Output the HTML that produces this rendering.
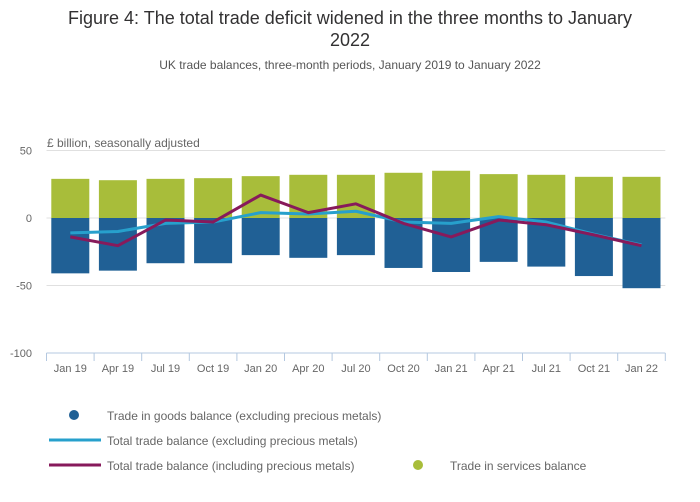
<!DOCTYPE html>
<html><head><meta charset="utf-8"><style>
body{margin:0;background:#fff;font-family:"Liberation Sans",sans-serif;}
#wrap{position:relative;width:700px;height:502px;overflow:hidden}
</style></head><body>
<div id="wrap">
<svg id="svg" width="700" height="502" xmlns="http://www.w3.org/2000/svg" font-family="Liberation Sans, sans-serif">
<text x="350" y="24" text-anchor="middle" font-size="18" fill="#323132">Figure 4: The total trade deficit widened in the three months to January</text>
<text x="350" y="46" text-anchor="middle" font-size="18" fill="#323132">2022</text>
<text x="350" y="69" text-anchor="middle" font-size="12" fill="#555">UK trade balances, three-month periods, January 2019 to January 2022</text>
<text x="47" y="147" font-size="12" fill="#666">£ billion, seasonally adjusted</text>
<g id="grid"></g><g id="bars"></g><g id="lines"></g><g id="axis"></g>
<g>
<circle cx="74" cy="415" r="5" fill="#206095"/>
<text x="107" y="420" font-size="12" fill="#666">Trade in goods balance (excluding precious metals)</text>
<line x1="49" y1="440" x2="101" y2="440" stroke="#27a0cc" stroke-width="3"/>
<text x="107" y="445" font-size="12" fill="#666">Total trade balance (excluding precious metals)</text>
<line x1="49" y1="465" x2="101" y2="465" stroke="#871a5b" stroke-width="3"/>
<text x="107" y="470" font-size="12" fill="#666">Total trade balance (including precious metals)</text>
<circle cx="418" cy="465" r="5" fill="#a8bd3a"/>
<text x="450" y="470" font-size="12" fill="#666">Trade in services balance</text>
</g>
</svg></div>
<script>
const categories=["Jan 19","Apr 19","Jul 19","Oct 19","Jan 20","Apr 20","Jul 20","Oct 20","Jan 21","Apr 21","Jul 21","Oct 21","Jan 22"];
const services=[29,28,29,29.5,31,32,32,33.5,35,32.5,32,30.5,30.5];
const goods=[-41,-39,-33.5,-33.5,-27.5,-29.5,-27.5,-37,-40,-32.5,-36,-43,-52];
const totalExcl=[-11,-10,-4,-3,4,3,5,-3,-4,1,-3,-12,-20];
const totalIncl=[-14,-20.5,-1.5,-3,17,4,10.5,-4,-14,-1.5,-5,-12.5,-20.5];
const yTicks=[50,0,-50,-100];
const NS="http://www.w3.org/2000/svg";
const x0=46.5,band=47.6;
const xc=i=>x0+band*(i+0.5);
const y=v=>218-v*1.35;
function mk(t,a,p){const e=document.createElementNS(NS,t);for(const k in a)e.setAttribute(k,a[k]);p.appendChild(e);return e;}
const grid=document.getElementById('grid'),bars=document.getElementById('bars'),lines=document.getElementById('lines'),axis=document.getElementById('axis');
yTicks.forEach(t=>{
 const l=mk('line',{x1:x0,x2:x0+band*13,y1:y(t),y2:y(t),stroke:t==-100?'#b4c8e0':'#e0e0e0','stroke-width':1},grid);
 
 
 const tx=mk('text',{x:32,y:y(t)+4,'text-anchor':'end','font-size':11,fill:'#666'},grid);
 tx.textContent=t;
 
 
});
categories.forEach((c,i)=>{
 const r1=mk('rect',{x:xc(i)-19,y:y(services[i]),width:38,height:y(0)-y(services[i]),fill:'#a8bd3a'},bars);
 
 
 const r2=mk('rect',{x:xc(i)-19,y:y(0),width:38,height:y(goods[i])-y(0),fill:'#206095'},bars);
 
 
 const tk=mk('line',{x1:x0+band*i,x2:x0+band*i,y1:353,y2:361,stroke:'#b4c8e0'},axis);
 
 
 const tx=mk('text',{x:xc(i),y:372,'text-anchor':'middle','font-size':11,fill:'#666'},axis);
 tx.textContent=c;
 
 
});
const te=mk('line',{x1:x0+band*13,x2:x0+band*13,y1:353,y2:361,stroke:'#b4c8e0'},axis);


const p1=mk('polyline',{points:totalExcl.map((v,i)=>xc(i)+','+y(v)).join(' '),fill:'none',stroke:'#27a0cc','stroke-width':3,'stroke-linejoin':'round'},lines);


const p2=mk('polyline',{points:totalIncl.map((v,i)=>xc(i)+','+y(v)).join(' '),fill:'none',stroke:'#871a5b','stroke-width':3,'stroke-linejoin':'round'},lines);


</script>
</body></html>
